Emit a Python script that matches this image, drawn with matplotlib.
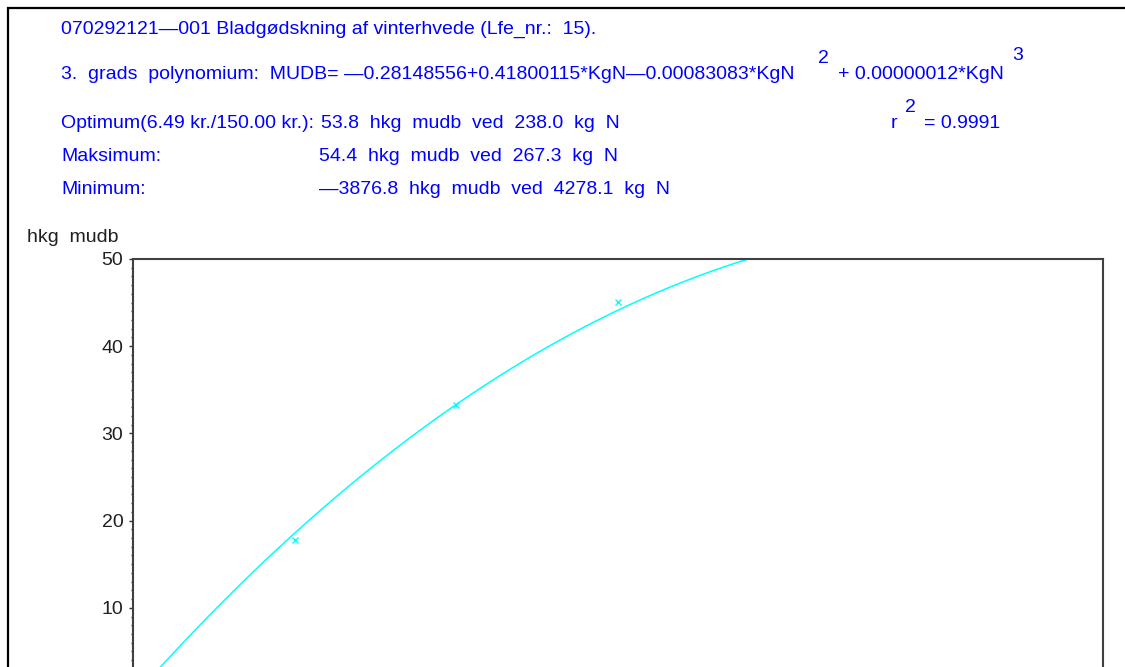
import numpy as np
import matplotlib
matplotlib.use('Agg')
import matplotlib.pyplot as plt
from matplotlib.patches import Rectangle
from matplotlib.ticker import MultipleLocator

# data -----------------------------------------------------------------------
# fitted 3rd degree polynomial (constant, x, x^2, x^3) as printed on the chart
coefs = [-0.28148556, 0.41800115, -0.00083083, 0.00000012]
kg_n = [50, 100, 150]
mudb = [17.8, 33.3, 45.1]
y_ticks = [10, 20, 30, 40, 50]

title = "070292121\u2014001 Bladgødskning af vinterhvede (Lfe_nr.:  15)."
eq_a = "3.  grads  polynomium:  MUDB= \u20140.28148556+0.41800115*KgN\u20140.00083083*KgN"
eq_b = "+ 0.00000012*KgN"
opt_lbl = "Optimum(6.49 kr./150.00 kr.):"
opt_txt = "53.8  hkg  mudb  ved  238.0  kg  N"
max_txt = "54.4  hkg  mudb  ved  267.3  kg  N"
min_txt = "\u20143876.8  hkg  mudb  ved  4278.1  kg  N"
r2_txt = "= 0.9991"

# figure ---------------------------------------------------------------------
W, H = 1125, 667
fig = plt.figure(figsize=(W / 100, H / 100), dpi=100)
plt.rcParams['font.family'] = ['Liberation Sans', 'DejaVu Sans']

def px(x, y):
    return x / W, 1 - y / H

blue = '#0000FF'
fs = 14

def txt(x, y, s, **kw):
    # y is the baseline in pixels from the top
    kw.setdefault('color', blue)
    kw.setdefault('fontsize', fs)
    fig.text(*px(x, y), s, va='baseline', **kw)

# outer frame, runs past right and bottom edge
fig.patches.append(Rectangle(px(8, 1000), 2000 / W, 992 / H, transform=fig.transFigure,
                             fill=False, edgecolor='black', lw=1.6))

txt(61, 34, title)
txt(61, 79, eq_a)
txt(818, 63, "2")
txt(838, 79, eq_b)
txt(1012, 60, "3")
txt(61, 128, opt_lbl)
txt(321, 128, opt_txt)
txt(61, 161, "Maksimum:")
txt(319, 161, max_txt)
txt(61, 194, "Minimum:")
txt(319, 194, min_txt)
txt(891, 128, "r")
txt(905, 112, "2")
txt(924, 128, r2_txt)
txt(27, 242, "hkg  mudb", color='#202020')

# axes (bottom part cropped away in the original)
ax = fig.add_axes([133 / W, (H - 695) / H, 970 / W, 436 / H])
xs = np.linspace(0, 300, 600)
ax.plot(xs, np.polyval(coefs[::-1], xs), color='#00FFFF', lw=1.1)
ax.plot(kg_n, mudb, 'x', color='#00FFFF', ms=4, mew=1)
ax.set_xlim(0, 300)
ax.set_ylim(0, 50)
ax.set_yticks(y_ticks)
ax.yaxis.set_minor_locator(MultipleLocator(1))
ax.tick_params(axis='y', which='major', length=3, width=1, direction='out', pad=4,
               labelsize=fs, labelcolor='#202020', color='#303030')
ax.tick_params(axis='y', which='minor', length=1.5, width=1, color='#303030')
ax.set_xticks([])
for s in ax.spines.values():
    s.set_color('#404040')
    s.set_linewidth(1.5)

fig.savefig('out.png', dpi=100)
